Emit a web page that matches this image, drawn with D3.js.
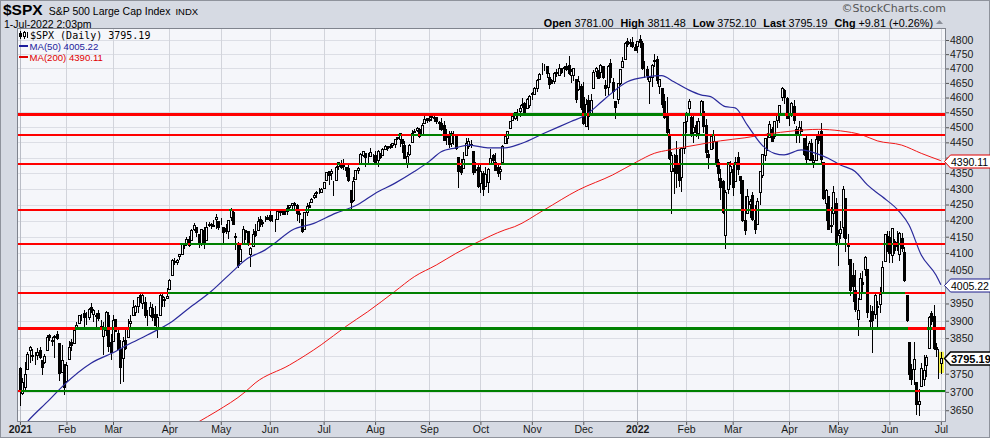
<!DOCTYPE html>
<html>
<head>
<meta charset="utf-8">
<script src="https://cdn.jsdelivr.net/npm/d3@7"></script>
<style>
  body { margin: 0; background: #fff; }
  svg { display: block; }
</style>
</head>
<body>
<script>
// daily bars [open, high, low, close], one array per month
const jan21 = [[3765,3770,3663,3701],[3698,3738,3695,3727],[3712,3783,3705,3748],[3764,3811,3764,3804],[3815,3827,3784,3825],[3803,3818,3789,3800],[3802,3811,3777,3801],[3802,3821,3792,3810],[3815,3824,3793,3796],[3789,3789,3750,3768],[3782,3805,3780,3799],[3816,3860,3816,3852],[3858,3861,3845,3853],[3844,3852,3830,3841],[3852,3859,3797,3855],[3863,3871,3848,3850],[3837,3837,3733,3751],[3756,3831,3756,3787],[3778,3778,3694,3714]];
const feb21 = [[3731,3784,3726,3774],[3792,3843,3792,3826],[3840,3848,3817,3830],[3837,3872,3837,3872],[3878,3895,3875,3887],[3893,3916,3893,3916],[3911,3918,3903,3911],[3921,3932,3885,3910],[3916,3926,3890,3916],[3912,3937,3906,3935],[3940,3950,3924,3933],[3918,3934,3900,3931],[3916,3922,3885,3914],[3921,3930,3903,3907],[3886,3903,3875,3877],[3857,3896,3806,3881],[3874,3929,3860,3925],[3916,3925,3814,3829],[3840,3861,3790,3811]];
const mar21 = [[3843,3915,3843,3902],[3904,3906,3869,3870],[3864,3875,3819,3820],[3819,3844,3723,3768],[3794,3852,3730,3842],[3844,3881,3819,3821],[3852,3904,3852,3875],[3892,3917,3886,3899],[3916,3960,3916,3939],[3925,3945,3915,3943],[3943,3970,3924,3969],[3974,3981,3953,3963],[3950,3984,3936,3974],[3954,3970,3911,3915],[3913,3930,3887,3913],[3917,3955,3914,3941],[3938,3949,3902,3911],[3920,3942,3889,3889],[3879,3920,3854,3910],[3917,3978,3917,3975],[3969,3982,3943,3971],[3963,3968,3944,3959],[3967,3994,3967,3973]];
const apr21 = [[3993,4021,3993,4020],[4034,4083,4034,4078],[4076,4086,4068,4074],[4074,4083,4068,4080],[4090,4098,4083,4097],[4096,4130,4096,4129],[4125,4132,4115,4128],[4130,4148,4124,4142],[4142,4152,4121,4125],[4140,4174,4140,4170],[4174,4191,4171,4185],[4180,4181,4151,4163],[4159,4159,4118,4135],[4128,4175,4126,4173],[4171,4180,4115,4135],[4139,4194,4139,4180],[4185,4194,4182,4188],[4188,4193,4176,4187],[4185,4202,4182,4183],[4206,4219,4177,4211],[4198,4198,4175,4181]];
const may21 = [[4192,4209,4188,4193],[4179,4179,4129,4165],[4177,4188,4161,4168],[4169,4203,4147,4202],[4210,4238,4202,4233],[4228,4236,4188,4188],[4150,4162,4112,4152],[4131,4135,4057,4063],[4075,4132,4075,4113],[4130,4183,4130,4174],[4170,4172,4143,4163],[4166,4169,4126,4128],[4098,4117,4061,4116],[4122,4173,4122,4159],[4169,4189,4152,4156],[4170,4210,4170,4197],[4206,4213,4183,4188],[4192,4203,4184,4196],[4202,4213,4198,4201],[4211,4218,4204,4204]];
const jun21 = [[4217,4234,4198,4202],[4207,4217,4198,4208],[4191,4204,4168,4193],[4206,4234,4206,4230],[4229,4232,4216,4227],[4234,4237,4219,4227],[4233,4237,4219,4220],[4229,4250,4220,4239],[4243,4248,4233,4247],[4248,4256,4234,4255],[4255,4257,4238,4247],[4249,4252,4202,4224],[4220,4232,4196,4222],[4205,4205,4164,4166],[4173,4226,4173,4225],[4225,4256,4217,4246],[4249,4257,4241,4242],[4257,4271,4257,4266],[4274,4286,4271,4281],[4285,4292,4275,4291],[4293,4301,4287,4292],[4291,4302,4288,4298]];
const jul21 = [[4301,4321,4301,4320],[4327,4355,4327,4352],[4357,4357,4314,4344],[4351,4362,4330,4358],[4321,4324,4279,4321],[4329,4373,4329,4370],[4372,4387,4364,4385],[4381,4392,4367,4369],[4380,4394,4362,4374],[4369,4369,4341,4360],[4367,4375,4323,4327],[4296,4296,4233,4258],[4265,4337,4262,4323],[4331,4360,4331,4359],[4361,4370,4350,4367],[4381,4415,4381,4412],[4410,4423,4406,4422],[4416,4416,4373,4401],[4403,4416,4387,4401],[4404,4430,4404,4419],[4395,4412,4389,4395]];
const aug21 = [[4407,4422,4385,4387],[4393,4424,4373,4423],[4416,4416,4400,4403],[4409,4430,4409,4429],[4429,4441,4429,4437],[4438,4439,4425,4432],[4436,4445,4430,4437],[4442,4449,4436,4448],[4446,4462,4436,4461],[4465,4468,4461,4468],[4462,4480,4438,4480],[4462,4462,4418,4448],[4441,4454,4398,4400],[4382,4419,4368,4406],[4411,4444,4407,4442],[4450,4490,4450,4480],[4484,4493,4483,4486],[4490,4502,4486,4496],[4494,4496,4469,4470],[4474,4513,4474,4509],[4514,4537,4514,4529],[4530,4531,4516,4523]];
const sep21 = [[4529,4537,4522,4524],[4535,4546,4525,4537],[4532,4541,4521,4535],[4535,4535,4513,4520],[4518,4522,4494,4514],[4513,4530,4492,4493],[4507,4521,4458,4459],[4475,4493,4446,4469],[4479,4486,4436,4443],[4448,4487,4438,4481],[4477,4486,4444,4474],[4470,4472,4428,4433],[4403,4403,4306,4358],[4374,4395,4348,4354],[4367,4417,4367,4396],[4407,4465,4407,4449],[4438,4463,4430,4455],[4442,4457,4436,4443],[4420,4420,4346,4353],[4362,4386,4355,4359],[4371,4383,4306,4308]];
const oct21 = [[4317,4375,4289,4357],[4349,4356,4279,4300],[4310,4369,4310,4346],[4320,4366,4291,4364],[4384,4429,4384,4400],[4407,4412,4386,4391],[4385,4416,4361,4361],[4368,4375,4342,4351],[4358,4373,4330,4364],[4387,4440,4387,4438],[4448,4476,4448,4471],[4464,4489,4448,4486],[4497,4520,4496,4520],[4524,4541,4524,4536],[4532,4551,4527,4550],[4546,4560,4524,4545],[4554,4573,4537,4566],[4579,4598,4569,4575],[4580,4585,4552,4552],[4563,4598,4563,4596],[4573,4608,4568,4605]];
const nov21 = [[4611,4620,4595,4614],[4613,4635,4613,4631],[4631,4664,4621,4661],[4663,4683,4663,4680],[4699,4719,4681,4698],[4702,4715,4694,4702],[4707,4709,4671,4685],[4670,4685,4631,4647],[4659,4665,4648,4649],[4655,4689,4651,4683],[4689,4697,4673,4683],[4679,4715,4679,4701],[4702,4702,4684,4689],[4701,4709,4673,4705],[4708,4718,4694,4698],[4712,4744,4682,4683],[4679,4699,4653,4691],[4676,4703,4660,4701],[4665,4665,4585,4595],[4629,4673,4625,4655],[4640,4646,4560,4567]];
const dec21 = [[4603,4653,4510,4513],[4505,4596,4505,4577],[4590,4608,4495,4538],[4548,4613,4541,4592],[4632,4694,4632,4687],[4691,4705,4675,4701],[4691,4695,4666,4667],[4688,4714,4670,4712],[4710,4710,4668,4669],[4642,4661,4607,4634],[4637,4713,4611,4710],[4719,4732,4652,4669],[4653,4667,4600,4621],[4588,4588,4531,4568],[4595,4651,4583,4649],[4650,4698,4646,4697],[4704,4741,4704,4726],[4734,4792,4734,4791],[4796,4807,4780,4786],[4789,4804,4778,4793],[4794,4809,4775,4779],[4775,4787,4766,4766]];
const jan22 = [[4778,4797,4758,4797],[4805,4819,4774,4794],[4788,4798,4699,4701],[4693,4725,4671,4696],[4698,4708,4663,4677],[4655,4673,4582,4670],[4669,4714,4638,4713],[4729,4749,4707,4726],[4734,4744,4650,4659],[4638,4665,4615,4663],[4632,4632,4569,4577],[4588,4612,4530,4533],[4547,4602,4478,4483],[4471,4495,4395,4398],[4356,4417,4223,4410],[4367,4411,4287,4356],[4408,4453,4305,4350],[4381,4429,4310,4327],[4336,4433,4293,4432],[4432,4517,4414,4516]];
const feb22 = [[4520,4551,4484,4547],[4566,4595,4544,4589],[4535,4543,4470,4477],[4483,4540,4452,4501],[4506,4522,4472,4484],[4480,4531,4465,4522],[4547,4590,4547,4587],[4553,4589,4484,4504],[4506,4526,4401,4419],[4413,4426,4365,4402],[4429,4473,4429,4471],[4456,4490,4430,4475],[4456,4456,4374,4380],[4385,4395,4327,4349],[4333,4362,4267,4305],[4325,4327,4222,4226],[4156,4295,4115,4289],[4298,4385,4287,4385],[4354,4389,4315,4374]];
const mar22 = [[4363,4378,4280,4306],[4323,4402,4323,4387],[4401,4417,4346,4363],[4342,4342,4285,4329],[4327,4327,4200,4201],[4203,4277,4158,4171],[4223,4299,4223,4278],[4253,4268,4210,4260],[4280,4291,4201,4204],[4203,4248,4162,4173],[4189,4271,4188,4262],[4288,4358,4252,4358],[4345,4413,4336,4412],[4407,4465,4391,4463],[4462,4482,4424,4461],[4469,4522,4469,4512],[4493,4501,4456,4456],[4470,4521,4465,4520],[4523,4546,4501,4543],[4541,4576,4518,4576],[4603,4637,4590,4632],[4624,4628,4581,4602],[4599,4603,4530,4530]];
const apr22 = [[4540,4549,4508,4546],[4548,4584,4539,4583],[4572,4593,4514,4525],[4494,4504,4450,4481],[4475,4521,4450,4500],[4494,4520,4486,4488],[4463,4464,4408,4413],[4438,4471,4381,4397],[4394,4454,4393,4447],[4449,4461,4391,4393],[4386,4410,4370,4392],[4391,4471,4391,4462],[4472,4488,4449,4459],[4489,4513,4385,4394],[4386,4386,4268,4272],[4255,4299,4201,4296],[4278,4278,4175,4175],[4187,4241,4163,4184],[4223,4308,4189,4288],[4254,4270,4124,4132]];
const may22 = [[4131,4170,4063,4155],[4160,4200,4147,4175],[4181,4308,4149,4300],[4270,4270,4106,4147],[4128,4158,4068,4123],[4081,4081,3976,3991],[4035,4069,3958,4001],[3990,4049,3929,3935],[3904,3965,3859,3930],[3964,4039,3964,4024],[4013,4047,3984,4008],[4052,4091,4034,4089],[4052,4052,3912,3924],[3899,3946,3876,3901],[3928,3943,3810,3901],[3919,3982,3909,3974],[3943,3956,3875,3941],[3947,3999,3925,3979],[3985,4075,3985,4058],[4077,4159,4077,4158],[4151,4168,4105,4132]];
const jun22 = [[4150,4167,4074,4101],[4095,4178,4074,4177],[4138,4143,4099,4109],[4135,4169,4109,4121],[4097,4165,4080,4161],[4147,4160,4107,4116],[4102,4119,4017,4018],[3974,3974,3900,3901],[3838,3838,3734,3750],[3764,3778,3722,3735],[3764,3838,3722,3790],[3728,3728,3640,3667],[3666,3708,3637,3675],[3715,3780,3715,3765],[3734,3802,3718,3760],[3775,3803,3744,3796],[3822,3914,3822,3912],[3921,3928,3890,3900],[3913,3946,3820,3822],[3825,3837,3799,3819],[3786,3818,3739,3785]];
const jul22 = [[3781,3811.48,3752.1,3795.19]];

const monthBars = [jan21,feb21,mar21,apr21,may21,jun21,jul21,aug21,sep21,oct21,nov21,dec21,jan22,feb22,mar22,apr22,may22,jun22,jul22];
const monthLabels = ["2021","Feb","Mar","Apr","May","Jun","Jul","Aug","Sep","Oct","Nov","Dec","2022","Feb","Mar","Apr","May","Jun","Jul"];

// hand drawn support / resistance levels
const levels = [4545, 4475, 4380, 4233, 4128, 3982, 3878, 3703];
const heavyLevels = [4545, 3878];

// moving averages (bar number, value)
const ma50At  = [0,3,12,18,29,39,44,52,62,69,78,86,93,100,104,111,120,129,135,138,145,153,161,167,172,178,183,191,198,205,214,225,231,239,248,256,262,267,273,278,282,288,292,297,303,308,312,319,325,330,335,341,346,352,359,363,368,374,376];
const ma50Val = [3596,3619,3678,3719,3779,3812,3831,3859,3897,3936,3985,4039,4084,4109,4130,4170,4191,4223,4240,4250,4285,4317,4355,4387,4419,4432,4441,4432,4432,4447,4480,4519,4541,4597,4654,4671,4675,4654,4626,4609,4603,4569,4565,4507,4441,4414,4409,4425,4414,4398,4376,4355,4312,4275,4228,4186,4094,4034,4005.22];
const ma200At  = [60,73,80,92,96,110,123,133,142,153,161,170,178,186,198,202,214,228,242,252,259,265,276,286,296,305,316,326,335,344,350,360,368,376];
const ma200Val = [3563,3619,3646,3700,3724,3774,3831,3883,3926,3985,4029,4064,4099,4130,4171,4181,4233,4296,4344,4387,4414,4425,4441,4455,4465,4477,4488,4493,4488,4474,4455,4441,4414,4390.11];

const yTicks = [3650,3700,3750,3800,3850,3900,3950,4000,4050,4100,4150,4200,4250,4300,4350,4400,4450,4500,4550,4600,4650,4700,4750,4800];

const bars = monthBars.flat();
const monthStart = [];
monthBars.reduce((n, m) => { monthStart.push(n); return n + m.length; }, 0);

const w = 990, h = 438;
const plot = {l: 17, r: 946, t: 28, b: 422};
const sans = "'Liberation Sans', Arial, sans-serif";
const red = "#ff0000", green = "#008000", plotBg = "#f5f6fa";

const svg = d3.select("body").append("svg")
  .attr("width", w)
  .attr("height", h);

svg.append("rect")
  .attr("x", 0.5).attr("y", 0.5)
  .attr("width", w - 1).attr("height", h - 1)
  .attr("fill", "#d6dae3")
  .attr("stroke", "#8f939c");

svg.append("rect")
  .attr("x", plot.l).attr("y", plot.t)
  .attr("width", plot.r - plot.l).attr("height", plot.b - plot.t)
  .attr("fill", plotBg);

const x = d3.scaleLinear().domain([-1.2, 378.1]).range([plot.l, plot.r]);
const y = d3.scaleLog().domain([3618.4, 4842.8]).range([plot.b, plot.t]);

svg.append("clipPath").attr("id", "clip")
  .append("rect")
  .attr("x", plot.l).attr("y", plot.t)
  .attr("width", plot.r - plot.l).attr("height", plot.b - plot.t);

const g = svg.append("g").attr("clip-path", "url(#clip)");

// grid
g.selectAll(".hgrid")
  .data(yTicks)
  .enter()
  .append("line")
  .attr("x1", plot.l).attr("x2", plot.r)
  .attr("y1", d => Math.round(y(d)) + 0.5)
  .attr("y2", d => Math.round(y(d)) + 0.5)
  .attr("stroke", "#dcdee5");
g.selectAll(".vgrid")
  .data(monthStart)
  .enter()
  .append("line")
  .attr("x1", d => Math.round(x(d)) + 0.5)
  .attr("x2", d => Math.round(x(d)) + 0.5)
  .attr("y1", plot.t).attr("y2", plot.b)
  .attr("stroke", (d, i) => monthLabels[i].length === 4 ? "#b9bcc5" : "#d2d4db");

// highlight of the live bar
const last = bars.length - 1;
g.append("rect")
  .attr("x", Math.round(x(last)) - 2)
  .attr("y", y(bars[last][1]))
  .attr("width", 5)
  .attr("height", y(bars[last][2]) - y(bars[last][1]))
  .attr("fill", "#f6f24a");

// candles
const candle = g.selectAll(".candle")
  .data(bars)
  .enter()
  .append("g")
  .attr("shape-rendering", "crispEdges");
candle.append("line")
  .attr("x1", (d, i) => Math.round(x(i)) + 0.5)
  .attr("x2", (d, i) => Math.round(x(i)) + 0.5)
  .attr("y1", d => Math.round(y(d[1])))
  .attr("y2", d => Math.round(y(d[2])) + 1)
  .attr("stroke", "#000");
candle.append("rect")
  .attr("x", (d, i) => Math.round(x(i)) - 0.5)
  .attr("y", d => Math.round(y(Math.max(d[0], d[3]))) + 0.5)
  .attr("width", 2)
  .attr("height", d => Math.max(0, Math.round(y(Math.min(d[0], d[3]))) - Math.round(y(Math.max(d[0], d[3])))))
  .attr("fill", d => d[3] >= d[0] ? plotBg : "#000")
  .attr("stroke", "#000");

// moving averages
const maLine = d3.line()
  .x(d => x(d[0]))
  .y(d => y(d[1]))
  .curve(d3.curveMonotoneX);
g.append("path")
  .attr("d", maLine(d3.zip(ma200At, ma200Val)))
  .attr("fill", "none")
  .attr("stroke", "#f01818")
  .attr("stroke-width", 1);
g.append("path")
  .attr("d", maLine(d3.zip(ma50At, ma50Val)))
  .attr("fill", "none")
  .attr("stroke", "#2a2a9c")
  .attr("stroke-width", 1.2);

// level lines, green while the close is above, red while below
levels.forEach(lvl => {
  const segs = [];
  bars.forEach((b, i) => {
    const col = b[3] >= lvl ? green : red;
    const x0 = i === 0 ? plot.l : x(i - 0.5);
    const x1 = i === last ? plot.r : x(i + 0.5);
    if (segs.length && segs[segs.length - 1].col === col) segs[segs.length - 1].x1 = x1;
    else segs.push({col, x0, x1});
  });
  const yy = Math.round(y(lvl)) + (heavyLevels.includes(lvl) ? 0.5 : 0);
  g.selectAll(null)
    .data(segs)
    .enter()
    .append("line")
    .attr("x1", d => d.x0).attr("x2", d => d.x1)
    .attr("y1", yy).attr("y2", yy)
    .attr("stroke", d => d.col)
    .attr("stroke-width", heavyLevels.includes(lvl) ? 3 : 2)
    .attr("shape-rendering", "crispEdges");
});

// plot frame
svg.append("rect")
  .attr("x", plot.l + 0.5).attr("y", plot.t + 0.5)
  .attr("width", plot.r - plot.l - 1).attr("height", plot.b - plot.t - 1)
  .attr("fill", "none")
  .attr("stroke", "#80848e");

// value tags on the price axis
const tags = [
  {v: 4390.11, stroke: "#e00000", bold: false},
  {v: 4005.22, stroke: "#1c1c8c", bold: false},
  {v: 3795.19, stroke: "#000", bold: true}
];

// axes (labels hidden where a value tag sits on top of them)
const yAxis = svg.append("g")
  .attr("transform", `translate(${plot.r},0)`)
  .call(d3.axisRight(y).tickValues(yTicks).tickSize(3).tickPadding(1)
    .tickFormat(d => tags.some(t => Math.abs(y(t.v) - y(d)) < 7) ? "" : d3.format("d")(d)));
const xAxis = svg.append("g")
  .attr("transform", `translate(0,${plot.b})`)
  .call(d3.axisBottom(x).tickValues(monthStart).tickFormat((d, i) => monthLabels[i]).tickSize(3).tickPadding(1));
[yAxis, xAxis].forEach(a => {
  a.select(".domain").remove();
  a.selectAll("line").attr("stroke", "#555");
  a.selectAll("text")
    .attr("fill", "#1a1a1a")
    .style("font-family", sans)
    .style("font-size", "10.5px");
});
xAxis.selectAll("text").style("font-weight", (d, i) => monthLabels[i].length === 4 ? "bold" : "normal");

tags.forEach(t => {
  const yy = Math.round(y(t.v)) + 0.5;
  svg.append("path")
    .attr("d", `M${plot.r - 1.5},${yy} L${plot.r + 4.5},${yy - 6.5} H${w + 2} V${yy + 6.5} H${plot.r + 4.5} Z`)
    .attr("fill", "#fff")
    .attr("stroke", t.stroke)
    .attr("stroke-width", t.bold ? 1.5 : 1);
  svg.append("text")
    .attr("x", plot.r + 5)
    .attr("y", yy + 4)
    .attr("fill", "#000")
    .style("font-family", sans)
    .style("font-size", t.bold ? "11px" : "10.5px")
    .style("font-weight", t.bold ? "bold" : "normal")
    .text(t.v.toFixed(2));
});

// titles
const title = svg.append("text").attr("x", 3).attr("y", 14.5).style("font-family", sans);
title.append("tspan").style("font-size", "15.5px").style("font-weight", "bold").text("$SPX");
title.append("tspan").attr("dx", 6).style("font-size", "10.5px").text("S&P 500 Large Cap Index");
title.append("tspan").attr("dx", 5).style("font-size", "9.5px").text("INDX");
svg.append("text")
  .attr("x", 4).attr("y", 27.5)
  .style("font-family", sans).style("font-size", "10.5px")
  .text("1-Jul-2022 2:03pm");
svg.append("text")
  .attr("x", 946).attr("y", 11.5)
  .attr("text-anchor", "end")
  .attr("fill", "#555")
  .style("font-family", "'DejaVu Sans', sans-serif").style("font-size", "11px")
  .text("\u00a9StockCharts.com");

const quote = [["Open", "3781.00"], ["High", "3811.48"], ["Low", "3752.10"], ["Last", "3795.19"], ["Chg", "+9.81 (+0.26%)"]];
const qt = svg.append("text")
  .attr("x", 933).attr("y", 26.5)
  .attr("text-anchor", "end")
  .style("font-family", sans).style("font-size", "10.8px");
quote.forEach((q, i) => {
  qt.append("tspan").attr("dx", i ? 7 : 0).style("font-weight", "bold").text(q[0]);
  qt.append("tspan").attr("dx", 3).text(q[1]);
});
svg.append("path")
  .attr("d", "M936,24 L939.5,20 L943,24 Z")
  .attr("fill", "#8a8e98");

// legend
const leg = svg.append("g").attr("shape-rendering", "crispEdges");
leg.append("line").attr("x1", 20.5).attr("x2", 20.5).attr("y1", 31).attr("y2", 39).attr("stroke", "#000");
leg.append("rect").attr("x", 19).attr("y", 33).attr("width", 3).attr("height", 4).attr("fill", "#000");
leg.append("line").attr("x1", 24.5).attr("x2", 24.5).attr("y1", 31).attr("y2", 39).attr("stroke", "#000");
leg.append("rect").attr("x", 23.5).attr("y", 32.5).attr("width", 2).attr("height", 4).attr("fill", "#fff").attr("stroke", "#000");
leg.append("line").attr("x1", 27.5).attr("x2", 27.5).attr("y1", 32).attr("y2", 38).attr("stroke", "#000");
svg.append("text")
  .attr("x", 30).attr("y", 38.5)
  .style("font-family", "'DejaVu Sans Mono', monospace").style("font-size", "10px")
  .text("$SPX (Daily) 3795.19");
[["MA(50) 4005.22", "#1c1c9c", 46], ["MA(200) 4390.11", "#e00000", 57]].forEach(r => {
  leg.append("rect").attr("x", 19).attr("y", r[2] - 1).attr("width", 9).attr("height", 2).attr("fill", r[1]);
  svg.append("text")
    .attr("x", 29.5).attr("y", r[2] + 3.5)
    .attr("fill", r[1])
    .style("font-family", sans).style("font-size", "9.6px")
    .text(r[0]);
});
</script>
</body>
</html>
